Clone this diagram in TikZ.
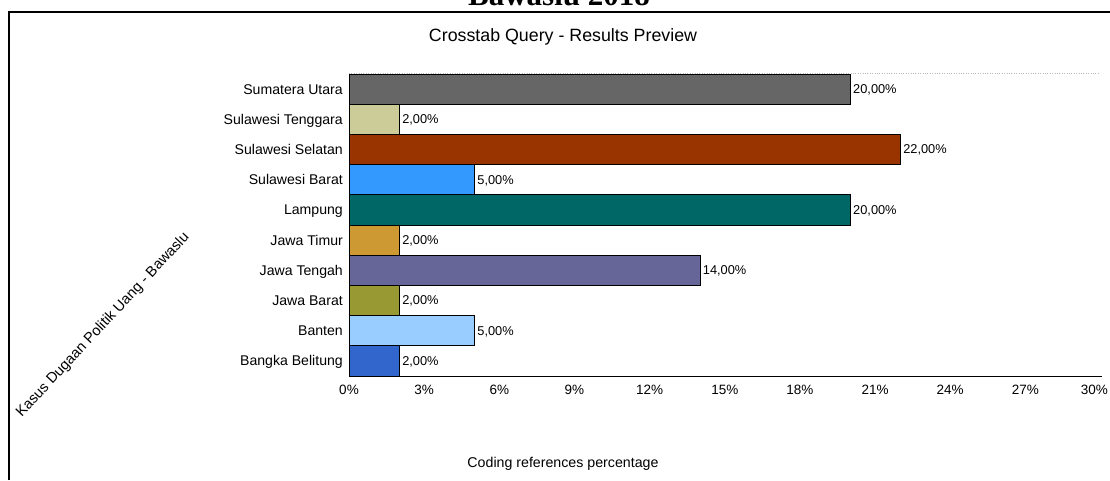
\documentclass[tikz,border=0pt]{standalone}
\usepackage{fontspec}
\setmainfont{Liberation Sans}
\newfontfamily\docserif{Liberation Serif}
\usetikzlibrary{positioning}

\definecolor{sumut}{HTML}{666666}
\definecolor{sultra}{HTML}{CCCC99}
\definecolor{sulsel}{HTML}{993300}
\definecolor{sulbar}{HTML}{3399FF}
\definecolor{lampung}{HTML}{006666}
\definecolor{jatim}{HTML}{CC9933}
\definecolor{jateng}{HTML}{666699}
\definecolor{jabar}{HTML}{999933}
\definecolor{banten}{HTML}{99CCFF}
\definecolor{babel}{HTML}{3366CC}

\tikzset{
  bar/.style={draw=black, line width=1pt, inner sep=0pt,
    minimum height=30.2pt, anchor=west},
  catlabel/.style={anchor=base east, inner sep=0pt,
    font=\fontsize{14.1}{16}\selectfont},
  vallabel/.style={anchor=base west, inner sep=0pt,
    font=\fontsize{12.8}{14}\selectfont},
  ticklabel/.style={anchor=base, inner sep=0pt,
    font=\fontsize{13.5}{15}\selectfont},
}

\begin{document}
\begin{tikzpicture}[x=1pt, y=-1pt]

  \useasboundingbox (0,0) rectangle (1110,480);

  % Page title and frame
  \node[anchor=base, inner sep=0pt,
    font=\docserif\bfseries\fontsize{31}{34}\selectfont]
    (doc-title) at (559,5) {Bawaslu 2018}; %
  \draw[line width=1.2pt] (9,480) -- (9,12) -- (1110,12); %

  % Chart titles
  \node[font=\fontsize{17.8}{20}\selectfont] (chart-title) at (563,37)
    {Crosstab Query - Results Preview}; %
  \node[font=\fontsize{14.2}{16}\selectfont] (x-title) at (563,464)
    {Coding references percentage}; %
  \node[font=\fontsize{14.6}{16}\selectfont, rotate=47] (y-title)
    at (103,325) {Kasus Dugaan Politik Uang - Bawaslu}; %

  % Plot area
  \coordinate (top-left)  at (349,73.5); %
  \coordinate (top-right) at (1100,73.5); %
  \coordinate (axis-left)  at (349,376); %
  \coordinate (axis-right) at (1102,376); %
  \draw[gray!55, dotted] (top-left) -- (top-right); %

  % Bars
  \foreach \name/\pct/\col [count=\i from 0] in {%
    Sumatera Utara/20/sumut, %
    Sulawesi Tenggara/2/sultra, %
    Sulawesi Selatan/22/sulsel, %
    Sulawesi Barat/5/sulbar, %
    Lampung/20/lampung, %
    Jawa Timur/2/jatim, %
    Jawa Tengah/14/jateng, %
    Jawa Barat/2/jabar, %
    Banten/5/banten, %
    Bangka Belitung/2/babel%
  }{
    \node[bar, fill=\col, minimum width=\pct*25.05pt] (bar\i)
      at (349,{89.1+30.2*\i}) {}; %
    \node[vallabel] (val\i) at ([xshift=2pt, yshift=-4.3pt]bar\i.east)
      {\pct,00\%}; %
    \node[catlabel] (cat\i) at ([xshift=-6pt, yshift=-4.9pt]bar\i.west)
      {\name}; %
  }

  % Axis
  \draw[line width=1pt] (axis-left) -- (axis-right); %
  \foreach \t in {0,3,...,27}{
    \node[ticklabel] (tick\t) at ({349+25.05*\t},394) {\t\%}; %
  }
  \node[ticklabel, anchor=base east] (tick30) at (1108,394) {30\%}; %

\end{tikzpicture}
\end{document}
